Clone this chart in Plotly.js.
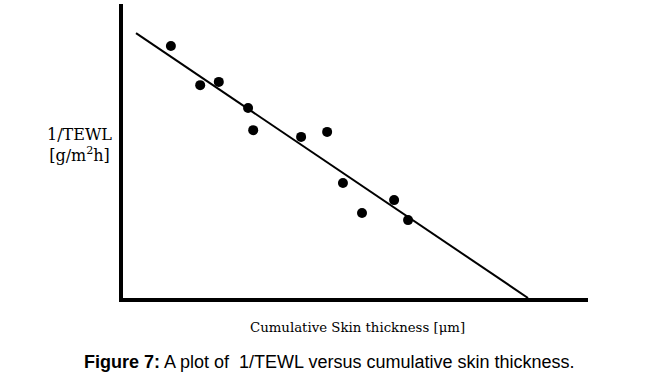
<!DOCTYPE html>
<html>
<head>
<meta charset="utf-8">
<script src="https://cdn.plot.ly/plotly-3.0.1.min.js"></script>
<style>html,body{margin:0;padding:0;background:#fff;}#chart{width:662px;height:385px;}</style>
</head>
<body>
<div id="chart"></div>
<script>
// Data (arbitrary units; axes carry no ticks)
var skinThickness = [10.3, 16.6, 20.6, 26.9, 28.0, 38.3, 43.9, 47.3, 51.4, 58.3, 61.3];
var invTEWL = [85.7, 72.4, 73.5, 64.6, 57.1, 54.8, 56.5, 39.1, 28.9, 33.3, 26.5];
var fitX = [2.8, 87.1];
var fitY = [90.1, 0];

var serif = 'DejaVu Serif, Liberation Serif, serif';
var sans = 'Liberation Sans, Arial, sans-serif';

var traces = [
  {x: fitX, y: fitY, mode: 'lines', line: {color: '#000', width: 2}, hoverinfo: 'skip'},
  {x: skinThickness, y: invTEWL, mode: 'markers', marker: {color: '#000', size: 10}}
];

var layout = {
  width: 662, height: 385,
  margin: {l: 123, r: 74, t: 4, b: 87},
  paper_bgcolor: '#fff', plot_bgcolor: '#fff',
  showlegend: false,
  xaxis: {range: [0, 100], showgrid: false, zeroline: false, showticklabels: false, ticks: '',
          showline: true, linecolor: '#000', linewidth: 4},
  yaxis: {range: [0, 100], showgrid: false, zeroline: false, showticklabels: false, ticks: '',
          showline: true, linecolor: '#000', linewidth: 4},
  annotations: [
    {text: '1/TEWL<br>[g/m<sup>2</sup>h]', xref: 'paper', yref: 'paper', x: -0.0925, y: 0.52,
     xanchor: 'center', yanchor: 'middle', showarrow: false, align: 'center',
     font: {family: serif, size: 16, color: '#000'}},
    {text: 'Cumulative Skin thickness [μm]', xref: 'paper', yref: 'paper', x: 0.505, y: -0.1,
     xanchor: 'center', yanchor: 'middle', showarrow: false,
     font: {family: serif, size: 13.3, color: '#000'}},
    {text: '<b>Figure 7:</b> A plot of  1/TEWL versus cumulative skin thickness.', xref: 'paper', yref: 'paper',
     x: 0.445, y: -0.218, xanchor: 'center', yanchor: 'middle', showarrow: false,
     font: {family: sans, size: 18, color: '#000'}}
  ]
};

Plotly.newPlot('chart', traces, layout, {displayModeBar: false, staticPlot: true});
</script>
</body>
</html>
